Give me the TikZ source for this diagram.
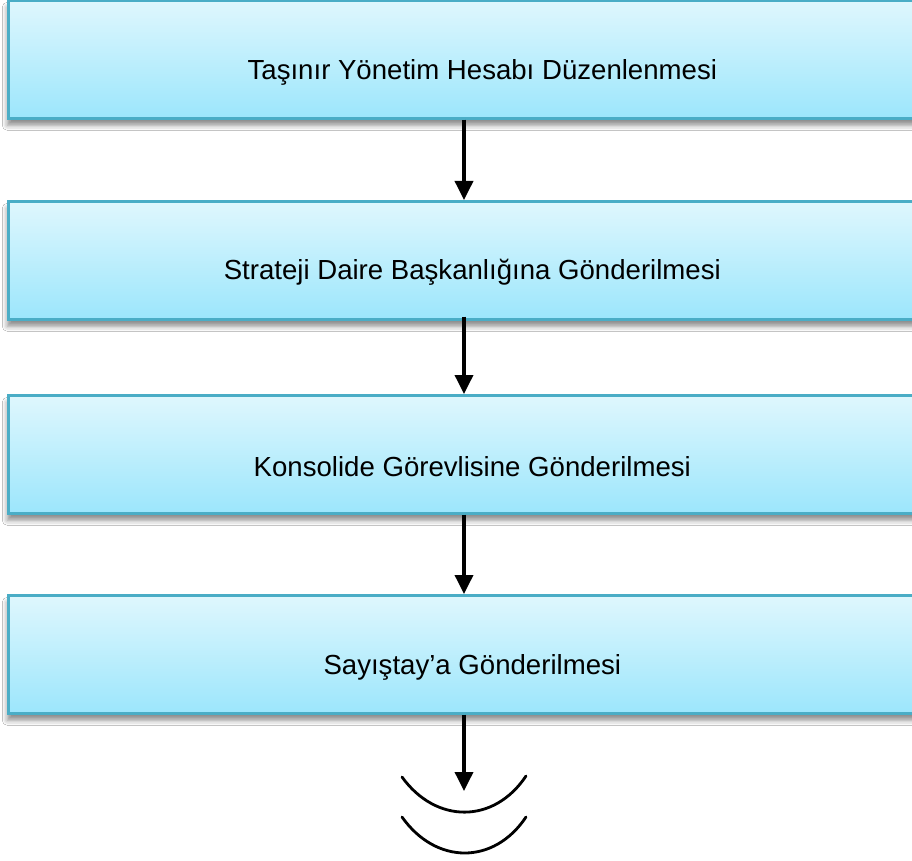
\documentclass[tikz,border=0pt]{standalone}
\usepackage{fontspec}
\setmainfont{Liberation Sans}
\usetikzlibrary{arrows.meta,shadows.blur}
\definecolor{boxtop}{HTML}{DFF7FD}
\definecolor{boxbot}{HTML}{9CE6FC}
\definecolor{boxline}{HTML}{4AADC6}
\tikzset{
  stepbox/.style={draw=boxline, line width=2.6pt, top color=boxtop, bottom color=boxbot,
    minimum width=928pt, minimum height=118pt, anchor=north west, inner sep=0pt,
    blur shadow={shadow xshift=-1pt, shadow yshift=-7pt, shadow blur radius=5pt, shadow opacity=45}},
  steptext/.style={font=\fontsize{27.6}{32}\selectfont, inner sep=0pt},
  flowarrow/.style={line width=3.6pt, -{Triangle[width=18pt,length=19pt]}},
  arcline/.style={line width=2.8pt, line cap=round}
}
\begin{document}
\begin{tikzpicture}[x=1pt,y=1pt]
\useasboundingbox (0,0) rectangle (912,-861);
\clip (0,0) rectangle (912,-861);
\fill[white] (0,0) rectangle (912,-861);
\node[stepbox] (b1) at (7,1) {};
\node[stepbox] (b2) at (7,-200) {};
\node[stepbox] (b3) at (7,-394) {};
\node[stepbox] (b4) at (7,-594) {};
\node[steptext] (t1) at ([xshift=10pt,yshift=-13pt]b1.center) {Taşınır Yönetim Hesabı Düzenlenmesi};
\node[steptext] (t2) at ([yshift=-12pt]b2.center) {Strateji Daire Başkanlığına Gönderilmesi};
\node[steptext] (t3) at ([yshift=-12pt]b3.center) {Konsolide Görevlisine Gönderilmesi};
\node[steptext] (t4) at ([yshift=-13pt]b4.center) {Sayıştay’a Gönderilmesi};
\coordinate (ax) at (464,0);
\coordinate (end4) at (464,-791);
\draw[flowarrow] (b1.south -| ax) -- (b2.north -| ax);
\draw[flowarrow] ([yshift=4pt]b2.south -| ax) -- (b3.north -| ax);
\draw[flowarrow] (b3.south -| ax) -- (b4.north -| ax);
\draw[flowarrow] (b4.south -| ax) -- (end4);
\draw[arcline] (402,-777) .. controls (436,-824) and (494,-824) .. (526,-776);
\draw[arcline] (402,-817) .. controls (436,-865) and (494,-865) .. (526,-817);
\end{tikzpicture}
\end{document}
